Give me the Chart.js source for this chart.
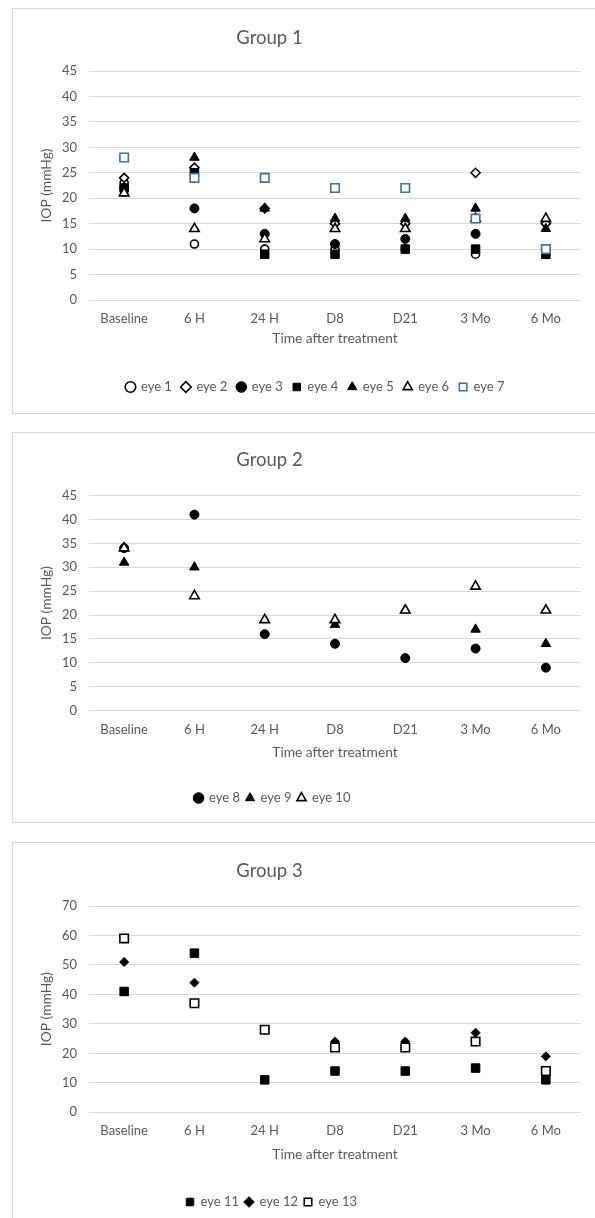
<!DOCTYPE html>
<html>
<head>
<meta charset="utf-8">
<script src="https://cdn.jsdelivr.net/npm/chart.js@4.4.0/dist/chart.umd.min.js"></script>
<style>
  body { margin: 0; width: 595px; height: 1218px; overflow: hidden; background: #fff; position: relative; }
  .box { position: absolute; left: 12px; width: 640px; border: 1px solid #d9d9d9; box-sizing: border-box; }
  .wrap { position: absolute; left: -42px; width: 623px; }
</style>
</head>
<body>
<div class="box" style="top:8px;height:406px"></div>
<div class="box" style="top:432px;height:391px"></div>
<div class="box" style="top:842px;height:420px"></div>
<div class="wrap" style="top:8px;height:405px"><canvas id="g1" width="623" height="405"></canvas></div>
<div class="wrap" style="top:432px;height:390px"><canvas id="g2" width="623" height="390"></canvas></div>
<div class="wrap" style="top:842px;height:400px"><canvas id="g3" width="623" height="400"></canvas></div>
<script>
// categories shared by all three groups
var categories = ["Baseline", "6 H", "24 H", "D8", "D21", "3 Mo", "6 Mo"];

// Group 1 (IOP, mmHg)
var eye1 = [23, 11, 10, 10, 10, 9, 9];
var eye2 = [24, 26, 18, 15, 15, 25, 15];
var eye3 = [22, 18, 13, 11, 12, 13, 10];
var eye4 = [22, 25, 9, 9, 10, 10, 9];
var eye5 = [21, 28, 18, 16, 16, 18, 14];
var eye6 = [21, 14, 12, 14, 14, 16, 16];
var eye7 = [28, 24, 24, 22, 22, 16, 10];

// Group 2
var eye8 = [34, 41, 16, 14, 11, 13, 9];
var eye9 = [31, 30, 19, 18, 21, 17, 14];
var eye10 = [34, 24, 19, 19, 21, 26, 21];

// Group 3
var eye11 = [41, 54, 11, 14, 14, 15, 11];
var eye12 = [51, 44, 28, 24, 24, 27, 19];
var eye13 = [59, 37, 28, 22, 22, 24, 14];

// y axis ranges
var yMax1 = 45, yStep1 = 5;
var yMax2 = 45, yStep2 = 5;
var yMax3 = 70, yStep3 = 10;

var GREY = '#595959';
var FONT = 'Lato, "Open Sans", sans-serif';

// marker looks
var openCircle = { shape: 'circle', r: 4, fill: '#fff', line: '#000', w: 1.6 };
var openDiamond = { shape: 'rectRot', r: 4.5, fill: '#fff', line: '#000', w: 1.6 };
var dot = { shape: 'circle', r: 4.5, fill: '#000', line: '#000', w: 1 };
var square = { shape: 'rect', r: 6, fill: '#000', line: '#000', w: 1 };
var tri = { shape: 'triangle', r: 5.5, fill: '#000', line: '#000', w: 1 };
var openTri = { shape: 'triangle', r: 5.5, fill: '#fff', line: '#000', w: 1.6 };
var blueSquare = { shape: 'rect', r: 6, fill: '#fff', line: '#41719c', w: 1.6 };
var diamond = { shape: 'rectRot', r: 4.5, fill: '#000', line: '#000', w: 1 };
var openSquare = { shape: 'rect', r: 6, fill: '#fff', line: '#000', w: 1.6 };

// shift the legend sideways when it is not centred under the title
var nudge = {
    id: 'nudge',
    afterLayout: function (chart, args, opts) {
        if (opts.legendDx && chart.legend) {
            chart.legend.left += opts.legendDx;
            chart.legend.right += opts.legendDx;
        }
    }
};

function makeChart(id, title, names, series, styles, yMax, yStep, lay) {
    var datasets = series.map(function (vals, i) {
        var s = styles[i];
        return {
            label: names[i],
            data: vals,
            showLine: false,
            pointStyle: s.shape,
            pointRadius: s.r,
            pointHoverRadius: s.r,
            pointBackgroundColor: s.fill,
            pointBorderColor: s.line,
            pointBorderWidth: s.w,
            backgroundColor: s.fill,
            borderColor: s.line,
            borderWidth: s.w,
            order: series.length - i   // later series on top, like Excel
        };
    });

    return new Chart(document.getElementById(id), {
        type: 'line',
        data: { labels: categories, datasets: datasets },
        plugins: [nudge],
        options: {
            responsive: false,
            animation: false,
            layout: { autoPadding: false, padding: { left: 0, right: 0, top: 0, bottom: lay.bottom } },
            plugins: {
                nudge: { legendDx: lay.legendDx || 0 },
                tooltip: { enabled: false },
                title: {
                    display: true,
                    text: title,
                    color: GREY,
                    font: { family: FONT, size: 18.5, weight: 'normal' },
                    padding: { top: lay.titleTop, bottom: lay.titleBottom }
                },
                legend: {
                    position: 'bottom',
                    labels: {
                        usePointStyle: true,
                        boxWidth: 8,
                        boxHeight: 7.5,
                        padding: lay.legendPad,
                        color: GREY,
                        font: { family: FONT, size: 13 },
                        sort: function (a, b) { return a.datasetIndex - b.datasetIndex; }
                    }
                }
            },
            scales: {
                x: {
                    type: 'category',
                    offset: true,
                    afterFit: function (s) { s.height = lay.xHeight; },
                    grid: { display: false, drawTicks: false },
                    border: { display: false },
                    ticks: { color: GREY, font: { family: FONT, size: 13 }, padding: lay.xTickPad },
                    title: {
                        display: true,
                        text: 'Time after treatment',
                        color: GREY,
                        font: { family: FONT, size: 13.8 },
                        padding: { top: 0, bottom: lay.xTitleBottom }
                    }
                },
                y: {
                    min: 0,
                    max: yMax,
                    afterFit: function (s) { s.width = 131; },
                    grid: { color: '#d9d9d9', drawTicks: false },
                    border: { display: false },
                    ticks: { stepSize: yStep, color: GREY, font: { family: FONT, size: 13 }, padding: 12 },
                    title: {
                        display: true,
                        text: 'IOP (mmHg)',
                        color: GREY,
                        font: { family: FONT, size: 13.8 },
                        padding: { top: 80, bottom: 0 }
                    }
                }
            }
        }
    });
}

makeChart('g1', 'Group 1',
    ['eye 1', 'eye 2', 'eye 3', 'eye 4', 'eye 5', 'eye 6', 'eye 7'],
    [eye1, eye2, eye3, eye4, eye5, eye6, eye7],
    [openCircle, openDiamond, dot, square, tri, openTri, blueSquare],
    yMax1, yStep1,
    { titleTop: 18.9, titleBottom: 21.9, xTickPad: 11.5, xHeight: 70.5, xTitleBottom: 23.2,
      legendPad: 10, bottom: 9.5, legendDx: 46 });

makeChart('g2', 'Group 2',
    ['eye 8', 'eye 9', 'eye 10'],
    [eye8, eye9, eye10],
    [dot, tri, openTri],
    yMax2, yStep2,
    { titleTop: 16.9, titleBottom: 24.4, xTickPad: 11.5, xHeight: 74.8, xTitleBottom: 24.2,
      legendPad: 6, bottom: 7.5, legendDx: 3 });

makeChart('g3', 'Group 3',
    ['eye 11', 'eye 12', 'eye 13'],
    [eye11, eye12, eye13],
    [square, diamond, openSquare],
    yMax3, yStep3,
    { titleTop: 17.9, titleBottom: 23.9, xTickPad: 10.9, xHeight: 77.2, xTitleBottom: 26.2,
      legendPad: 6, bottom: 23.5, legendDx: 2 });
</script>
</body>
</html>
